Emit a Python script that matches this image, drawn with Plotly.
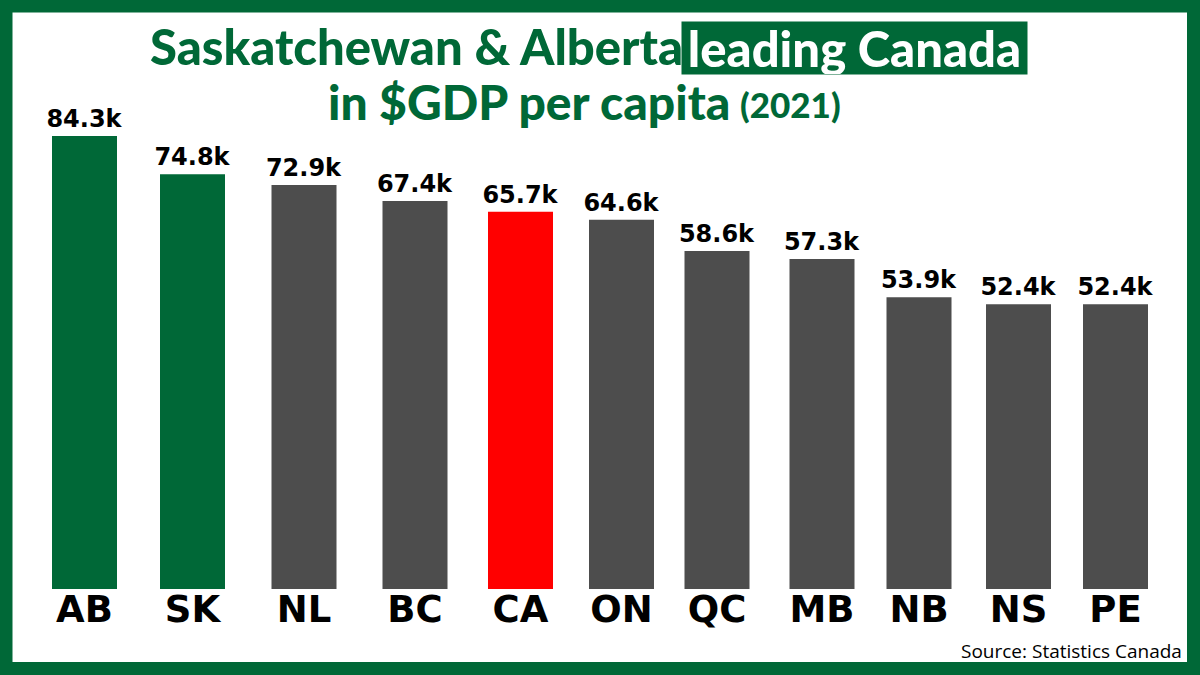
import plotly.graph_objects as go

W, H = 1200, 675
GREEN = "#006837"
GREY = "#4d4d4d"
RED = "#ff0000"

provinces = ["AB", "SK", "NL", "BC", "CA", "ON", "QC", "MB", "NB", "NS", "PE"]
value_labels = ["84.3k", "74.8k", "72.9k", "67.4k", "65.7k", "64.6k", "58.6k",
                "57.3k", "53.9k", "52.4k", "52.4k"]
# bar heights as drawn in the picture, they are not quite to scale with the printed labels
bar_heights = [84.3, 77.2, 75.2, 72.2, 70.2, 68.7, 62.9, 61.4, 54.3, 53.0, 53.0]
# the bars are unevenly spaced in the original
bar_centers = [84.5, 192.5, 304, 415, 520.5, 621.5, 717, 822, 919, 1018.5, 1115.5]
bar_colors = [GREEN, GREEN, GREY, GREY, RED, GREY, GREY, GREY, GREY, GREY, GREY]

fig = go.Figure(go.Bar(
    x=bar_centers,
    y=bar_heights,
    width=65,
    marker=dict(color=bar_colors, line_width=0),
    text=value_labels,
    textposition="outside",
    constraintext="none",
    cliponaxis=False,
    textfont=dict(family="DejaVu Sans", size=24, color="black", weight="bold"),
))


def px_x(x):
    return x / W


def px_y(y):
    return 1 - y / H


title_font = dict(family="Lato", color=GREEN, weight=900)
annotations = [
    dict(x=px_x(148), y=px_y(46), xanchor="left", yanchor="middle",
         text="Saskatchewan &amp; Alberta", font=dict(size=49, **title_font)),
    dict(x=px_x(854.5), y=px_y(48), xanchor="center", yanchor="middle", text="leading Canada",
         font=dict(family="Lato", size=49, color="white", weight=900),
         bgcolor=GREEN, width=345, height=52, borderpad=0),
    dict(x=px_x(326), y=px_y(102), xanchor="left", yanchor="middle",
         text="in $GDP per capita", font=dict(size=48, **title_font)),
    dict(x=px_x(738), y=px_y(104), xanchor="left", yanchor="middle",
         text="(2021)", font=dict(size=35, **title_font)),
    dict(x=px_x(1184), y=px_y(651), xanchor="right", yanchor="middle",
         text="Source: Statistics Canada",
         font=dict(family="Open Sans", size=19, color="black")),
]
for a in annotations:
    a.update(xref="paper", yref="paper", showarrow=False)

fig.update_layout(
    width=W, height=H,
    margin=dict(l=0, r=0, t=0, b=0),
    paper_bgcolor="white",
    plot_bgcolor="white",
    showlegend=False,
    xaxis=dict(range=[0, W], tickmode="array", tickvals=bar_centers, ticktext=provinces,
               ticks="", showgrid=False, zeroline=False, showline=False, ticklabelstandoff=-5,
               tickfont=dict(family="DejaVu Sans", size=37, color="black", weight="bold")),
    yaxis=dict(domain=[86 / H, 1], range=[0, 589 / 5.374], visible=False,
               showgrid=False, zeroline=False),
    annotations=annotations,
    shapes=[dict(type="rect", xref="paper", yref="paper", x0=px_x(6), x1=px_x(W - 6.5),
                 y0=px_y(H - 6.5), y1=px_y(6), line=dict(color=GREEN, width=13),
                 fillcolor="rgba(0,0,0,0)")],
)

fig.write_html("out.html", config={"displayModeBar": False},
               post_script="document.body.style.margin='0';document.body.style.overflow='hidden';")
